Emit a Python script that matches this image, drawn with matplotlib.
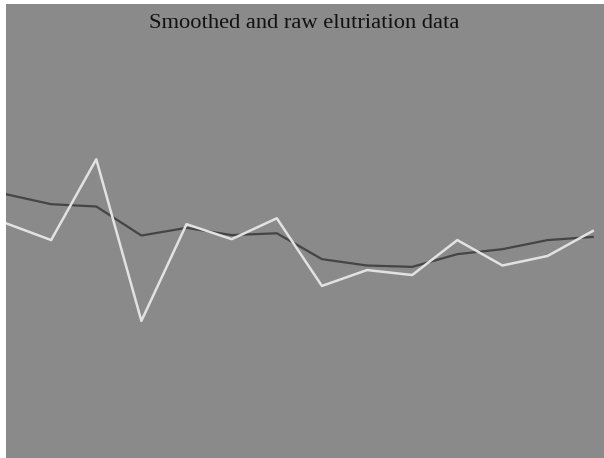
import matplotlib
matplotlib.use("Agg")
import matplotlib.pyplot as plt

index = list(range(14))
raw = [51.7, 48.0, 65.8, 30.2, 51.5, 48.2, 52.8, 37.9, 41.4, 40.3, 48.0, 42.4, 44.5, 50.0]
smoothed = [58.1, 55.9, 55.4, 49.0, 50.7, 49.1, 49.5, 43.8, 42.4, 42.1, 44.9, 46.0, 48.0, 48.7]
title = "Smoothed and raw elutriation data"

fig = plt.figure(figsize=(6.04, 4.58), dpi=100, facecolor="white")
ax = fig.add_axes([6/604, 0, 598/604, 454/458])
ax.set_facecolor("#8a8a8a")
ax.plot(index, smoothed, color="#454545", lw=1.6)
ax.plot(index, raw, color="#e2e2e2", lw=1.8)
ax.set_xlim(0, 13.25)
ax.set_ylim(0, 100)
ax.set_xticks([])
ax.set_yticks([])
for s in ax.spines.values():
    s.set_visible(False)
ax.text(0.5 - 1/598, 1 - 24/454, title, transform=ax.transAxes, ha="center", va="baseline",
        family="Liberation Serif", fontsize=16.2, color="#121212")
fig.savefig("out.png", dpi=100, facecolor="white")
